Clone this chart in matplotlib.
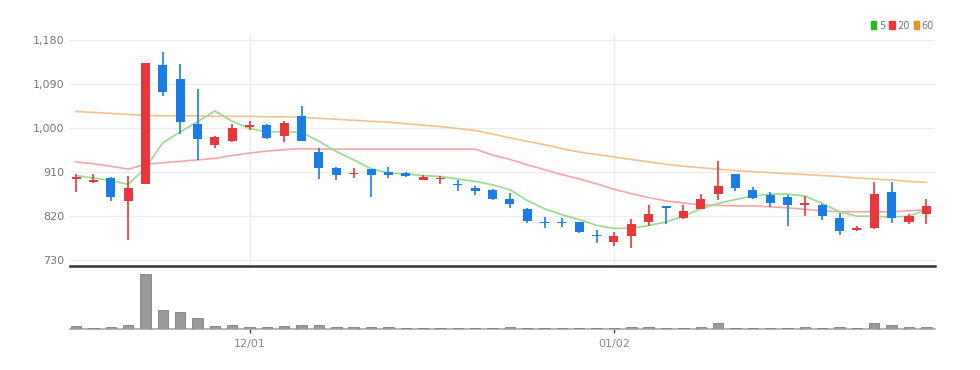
import numpy as np
import matplotlib.pyplot as plt
from matplotlib.patches import Patch
from matplotlib.ticker import FuncFormatter

# Datos (50 sesiones)
opens = [896, 889, 898, 851, 886, 1129, 1100, 1008, 965, 974,
         1003, 1007, 983, 1025, 952, 919, 907, 917, 910, 908,
         894, 895, 886, 877, 874, 856, 835, 808, 807, 808,
         782, 767, 779, 808, 840, 816, 834, 866, 906, 874,
         864, 859, 842, 843, 817, 791, 795, 869, 809, 824]
closes = [900, 894, 860, 877, 1134, 1074, 1012, 978, 981, 1000,
          1007, 980, 1011, 974, 919, 905, 909, 905, 905, 903,
          899, 897, 884, 872, 855, 845, 811, 806, 805, 788,
          780, 779, 804, 825, 836, 830, 855, 881, 877, 858,
          846, 842, 846, 820, 789, 796, 866, 816, 820, 841]
highs = [907, 907, 899, 903, 1134, 1155, 1132, 1079, 984, 1008,
         1014, 1009, 1015, 1046, 959, 921, 918, 917, 921, 911,
         905, 902, 893, 882, 876, 868, 836, 818, 817, 809,
         791, 787, 814, 843, 841, 843, 866, 933, 907, 880,
         869, 863, 862, 845, 826, 799, 890, 889, 825, 855]
lows = [869, 887, 850, 771, 886, 1066, 988, 934, 960, 972,
        997, 978, 972, 974, 896, 894, 897, 860, 898, 900,
        894, 885, 872, 864, 853, 836, 805, 796, 797, 786,
        766, 758, 754, 799, 804, 815, 834, 852, 871, 856,
        838, 800, 821, 813, 781, 790, 794, 805, 804, 804]
volumes = [2.7, 1.4, 2.3, 4, 55, 19, 17.3, 11.3, 2.7, 4,
           2, 2, 2.7, 4.3, 4.3, 2, 2, 2.3, 2.3, 1.4,
           1.4, 1.4, 1.4, 1.4, 1.3, 2.3, 1.3, 1.3, 1.3, 1.3,
           1.3, 1.3, 2.3, 2.3, 1.3, 1.3, 2.3, 5.7, 1.3, 1.3,
           1.3, 1.3, 2.3, 1.3, 2.3, 1.3, 5.7, 4, 2, 2.3]
ma5 = [903, 898, 893, 885, 918, 970, 992, 1013, 1035, 1014,
       999, 992, 993, 991, 973, 952, 935, 917, 908, 906,
       903, 901, 896, 891, 884, 874, 852, 835, 823, 813,
       801, 795, 795, 801, 808, 820, 835, 846, 854, 861,
       865, 865, 861, 846, 829, 820, 820, 818, 820, 833]
ma20 = [931, 927, 922, 916, 926, 929, 932, 935, 938, 944,
        949, 953, 956, 958, 957, 957, 957, 957, 957, 957,
        957, 957, 957, 957, 945, 936, 925, 915, 905, 896,
        886, 875, 866, 858, 851, 847, 843, 842, 841, 841,
        839, 837, 834, 831, 829, 829, 829, 829, 831, 833]
ma60 = [1034, 1032, 1030, 1028, 1026, 1025, 1025, 1025, 1024, 1024,
        1024, 1023, 1023, 1022, 1020, 1018, 1016, 1014, 1012, 1009,
        1006, 1003, 999, 995, 988, 980, 973, 966, 958, 951,
        946, 941, 936, 931, 926, 922, 919, 916, 913, 911,
        909, 907, 905, 903, 901, 898, 896, 894, 891, 889]
tick_pos = [10, 31]
tick_labels = ['12/01', '01/02']
y_ticks = [730, 820, 910, 1000, 1090, 1180]

plt.rcParams['font.family'] = ['Liberation Sans Narrow', 'DejaVu Sans']

RED = '#e8363a'
BLUE = '#1a7de6'
x = np.arange(len(opens))

fig = plt.figure(figsize=(9.8, 3.7), dpi=100)
ax = fig.add_axes([0.0714, 0.281, 0.8827, 0.624])
axv = fig.add_axes([0.0714, 0.111, 0.8827, 0.165])

# Medias móviles
ax.plot(x, ma60, color='#f8c08c', lw=1.2, zorder=2)
ax.plot(x, ma20, color='#f6a6a6', lw=1.2, zorder=2)
ax.plot(x, ma5, color='#95dc8c', lw=1.2, zorder=2)

# Velas
o = np.array(opens)
c = np.array(closes)
colors = [RED if cc >= oo else BLUE for oo, cc in zip(o, c)]
ax.vlines(x, lows, highs, colors=colors, lw=1.2, zorder=3)
body = np.maximum(np.abs(c - o), 1.5)
ax.bar(x, body, bottom=np.minimum(o, c), width=0.52, color=colors, zorder=4)

ax.set_xlim(-0.35, 49.5)
ax.set_ylim(718, 1190)
ax.set_yticks(y_ticks)
ax.yaxis.set_major_formatter(FuncFormatter(lambda v, p: f'{int(v):,}'))
ax.set_xticks(tick_pos)
ax.tick_params(axis='x', length=0, labelbottom=False)
ax.tick_params(axis='y', length=0, labelsize=8, labelcolor='#777777', pad=4)
ax.grid(True, color='#ececec', lw=0.9)
ax.set_axisbelow(True)
for s in ['top', 'right', 'left']:
    ax.spines[s].set_visible(False)
ax.spines['bottom'].set_color('#333333')
ax.spines['bottom'].set_linewidth(1.8)

# Volumen
axv.bar(x, volumes, width=0.6, color='#999999', edgecolor='#7f7f7f', lw=0.6, zorder=3)
axv.set_xlim(-0.35, 49.5)
axv.set_ylim(0, 61)
axv.set_yticks([])
axv.set_xticks(tick_pos)
axv.set_xticklabels(tick_labels)
axv.tick_params(axis='x', length=3, width=1, color='#444444', labelsize=8,
                labelcolor='#888888', pad=4)
for s in ['top', 'right', 'left']:
    axv.spines[s].set_visible(False)
axv.spines['bottom'].set_color('#aaaaaa')
axv.spines['bottom'].set_linewidth(1.2)

# Leyenda
handles = [Patch(color='#22bb22'), Patch(color='#ee3333'), Patch(color='#f0902a')]
fig.legend(handles, ['5', '20', '60'], loc='upper right', bbox_to_anchor=(0.962, 0.968),
           ncol=3, frameon=False, fontsize=7, handlelength=0.55, handleheight=0.9,
           handletextpad=0.25, columnspacing=0.45, labelcolor='#777777')

plt.savefig('out.png', dpi=100)
